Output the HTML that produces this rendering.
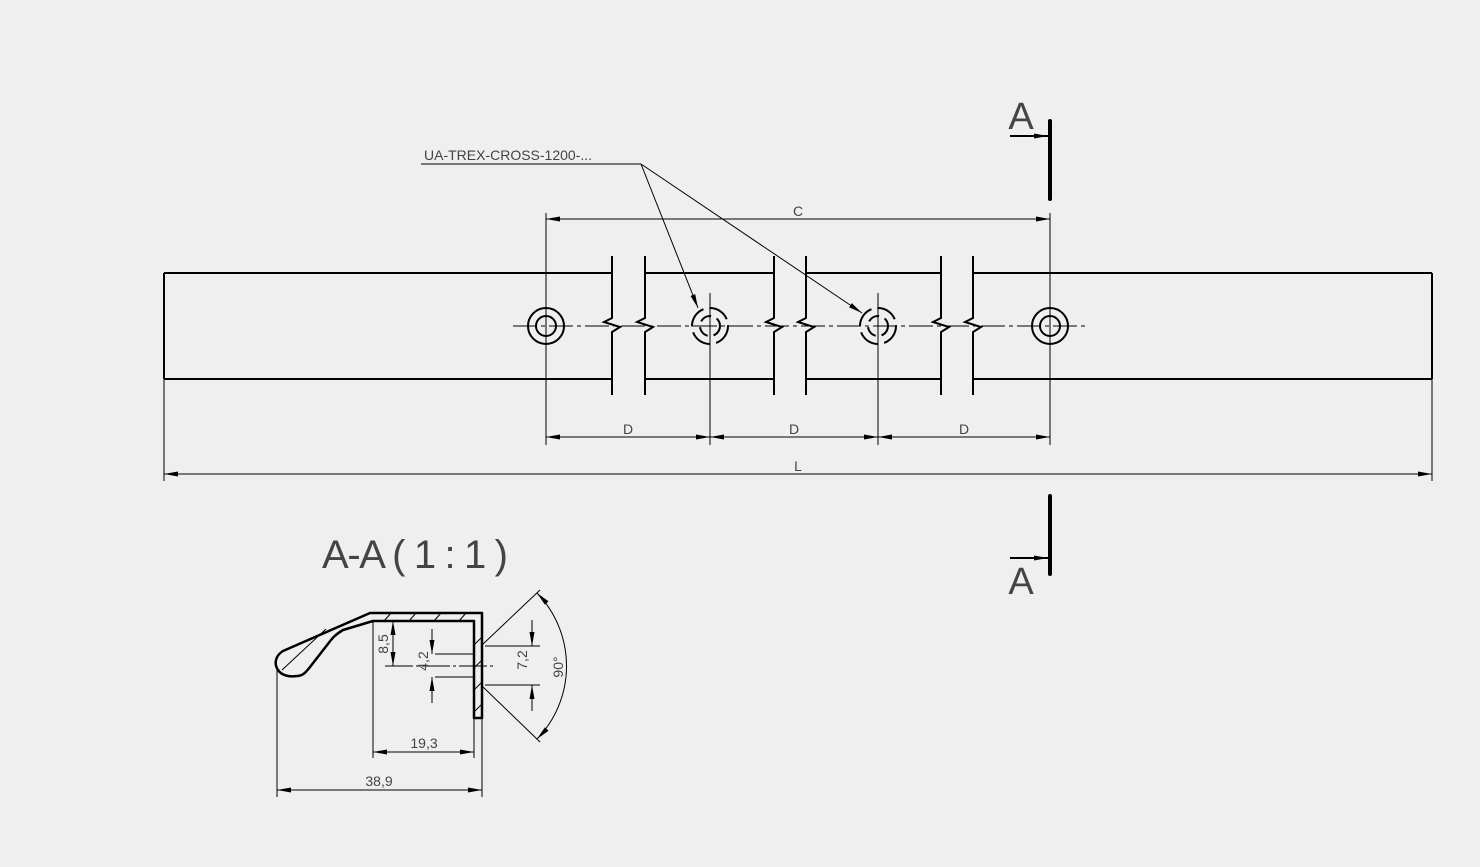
<!DOCTYPE html>
<html><head><meta charset="utf-8"><style>
html,body{margin:0;padding:0;background:#efefef;}
svg{display:block;}
text{font-family:"Liberation Sans Narrow","Liberation Sans",sans-serif;fill:#444;}
</style></head><body>
<svg width="1480" height="867" viewBox="0 0 1480 867" xmlns="http://www.w3.org/2000/svg">
<defs>
<marker id="ar" viewBox="0 0 14 6" refX="14" refY="3" markerWidth="14" markerHeight="6" markerUnits="userSpaceOnUse" orient="auto-start-reverse"><path d="M0,0.5 L14,3 L0,5.5 Z" fill="#000"/></marker>
</defs>
<g stroke="#000" fill="none">
<g stroke-width="2">
<line x1="164" y1="273" x2="164" y2="379"/>
<line x1="1432" y1="273" x2="1432" y2="379"/>
<line x1="164" y1="273" x2="612" y2="273"/><line x1="645" y1="273" x2="774" y2="273"/><line x1="806" y1="273" x2="941" y2="273"/><line x1="973" y1="273" x2="1432" y2="273"/>
<line x1="164" y1="379" x2="612" y2="379"/><line x1="645" y1="379" x2="774" y2="379"/><line x1="806" y1="379" x2="941" y2="379"/><line x1="973" y1="379" x2="1432" y2="379"/>
<path d="M612,256 V318 l-8,4 l16,5 l-8,5 V395"/>
<path d="M645,256 V318 l-8,4 l16,5 l-8,5 V395"/>
<path d="M774,256 V318 l-8,4 l16,5 l-8,5 V395"/>
<path d="M806,256 V318 l-8,4 l16,5 l-8,5 V395"/>
<path d="M941,256 V318 l-8,4 l16,5 l-8,5 V395"/>
<path d="M973,256 V318 l-8,4 l16,5 l-8,5 V395"/>
<circle cx="546" cy="326" r="18"/><circle cx="546" cy="326" r="10"/>
<circle cx="1050" cy="326" r="18"/><circle cx="1050" cy="326" r="10"/>
<circle cx="710" cy="326" r="18" stroke-dasharray="22 6"/><circle cx="710" cy="326" r="10" stroke-dasharray="12 6"/>
<circle cx="878" cy="326" r="18" stroke-dasharray="22 6"/><circle cx="878" cy="326" r="10" stroke-dasharray="12 6"/>
</g>
<g stroke-width="1">
<line x1="513" y1="326" x2="1085" y2="326" stroke-dasharray="24 4 4 4"/>
<line x1="710" y1="293" x2="710" y2="445"/>
<line x1="878" y1="293" x2="878" y2="445"/>
<line x1="546" y1="213" x2="546" y2="445"/>
<line x1="1050" y1="213" x2="1050" y2="445"/>
<line x1="164" y1="379" x2="164" y2="481"/>
<line x1="1432" y1="379" x2="1432" y2="481"/>
<line x1="546" y1="219" x2="1050" y2="219" marker-start="url(#ar)" marker-end="url(#ar)"/>
<line x1="546" y1="437" x2="710" y2="437" marker-start="url(#ar)" marker-end="url(#ar)"/>
<line x1="710" y1="437" x2="878" y2="437" marker-start="url(#ar)" marker-end="url(#ar)"/>
<line x1="878" y1="437" x2="1050" y2="437" marker-start="url(#ar)" marker-end="url(#ar)"/>
<line x1="164" y1="474" x2="1432" y2="474" marker-start="url(#ar)" marker-end="url(#ar)"/>
<line x1="421" y1="164" x2="641" y2="164"/>
<line x1="641" y1="164" x2="698" y2="308" marker-end="url(#ar)"/>
<line x1="641" y1="164" x2="862" y2="313" marker-end="url(#ar)"/>
</g>
<g stroke-width="4" stroke-linecap="round"><line x1="1050" y1="121" x2="1050" y2="199"/><line x1="1050" y1="496" x2="1050" y2="574"/></g>
<g stroke-width="2"><line x1="1010" y1="136" x2="1048" y2="136" marker-end="url(#ar)"/><line x1="1010" y1="558" x2="1048" y2="558" marker-end="url(#ar)"/></g>

<g stroke-width="2.5" stroke-linejoin="round">
<path d="M297,676 C303,676 306,672 310,667 L331,640 C334,636 338,633 343,630 L373,621 H474 V718 H482 V613 H370 L283,651 C275,656 274,664 278,670 C282,676 290,677 297,676 Z"/>
</g>
<g stroke-width="1">
<line x1="384" y1="621" x2="391" y2="613"/><line x1="409" y1="621" x2="416" y2="613"/><line x1="434" y1="621" x2="441" y2="613"/><line x1="459" y1="621" x2="466" y2="613"/>
<line x1="474" y1="645" x2="482" y2="637"/><line x1="474" y1="668" x2="482" y2="660"/><line x1="474" y1="690" x2="482" y2="682"/><line x1="474" y1="712" x2="482" y2="704"/>
<line x1="282" y1="670" x2="326" y2="629"/>
<line x1="482" y1="645" x2="540" y2="590"/><line x1="482" y1="686" x2="540" y2="742"/>
<path d="M537,593 A105,105 0 0 1 537,739" marker-start="url(#ar)" marker-end="url(#ar)"/>
<line x1="373" y1="621" x2="373" y2="758"/><line x1="474" y1="718" x2="474" y2="758"/>
<line x1="277" y1="668" x2="277" y2="797"/><line x1="482" y1="718" x2="482" y2="797"/>
<line x1="485" y1="646" x2="540" y2="646"/><line x1="485" y1="685" x2="540" y2="685"/>
<line x1="435" y1="654" x2="473" y2="654"/><line x1="435" y1="677" x2="473" y2="677"/>
<line x1="385" y1="666" x2="495" y2="666" stroke-dasharray="28 3 3 3"/>
<line x1="373" y1="752" x2="474" y2="752" marker-start="url(#ar)" marker-end="url(#ar)"/>
<line x1="277" y1="790" x2="482" y2="790" marker-start="url(#ar)" marker-end="url(#ar)"/>
<line x1="393" y1="621" x2="393" y2="666" marker-start="url(#ar)" marker-end="url(#ar)"/>
<line x1="432" y1="629" x2="432" y2="654" marker-end="url(#ar)"/>
<line x1="432" y1="703" x2="432" y2="677" marker-end="url(#ar)"/>
<line x1="532" y1="620" x2="532" y2="646" marker-end="url(#ar)"/>
<line x1="532" y1="711" x2="532" y2="685" marker-end="url(#ar)"/>
</g>
</g>
<text x="424" y="160" font-size="14">UA-TREX-CROSS-1200-...</text>
<text x="798" y="216" font-size="14" text-anchor="middle">C</text>
<text x="628" y="434" font-size="14" text-anchor="middle">D</text>
<text x="794" y="434" font-size="14" text-anchor="middle">D</text>
<text x="964" y="434" font-size="14" text-anchor="middle">D</text>
<text x="798" y="471" font-size="14" text-anchor="middle">L</text>
<text x="1021" y="129" font-size="38" text-anchor="middle">A</text>
<text x="1021" y="594" font-size="38" text-anchor="middle">A</text>
<text x="322" y="568" font-size="40" textLength="186" lengthAdjust="spacing">A-A ( 1 : 1 )</text>
<text x="424" y="748" font-size="14" text-anchor="middle">19,3</text>
<text x="379" y="786" font-size="14" text-anchor="middle">38,9</text>
<text transform="translate(388,644) rotate(-90)" font-size="14" text-anchor="middle">8,5</text>
<text transform="translate(428,661) rotate(-90)" font-size="14" text-anchor="middle">4,2</text>
<text transform="translate(527,660) rotate(-90)" font-size="14" text-anchor="middle">7,2</text>
<text transform="translate(563,667) rotate(-90)" font-size="14" text-anchor="middle">90°</text>
</svg>
</body></html>
